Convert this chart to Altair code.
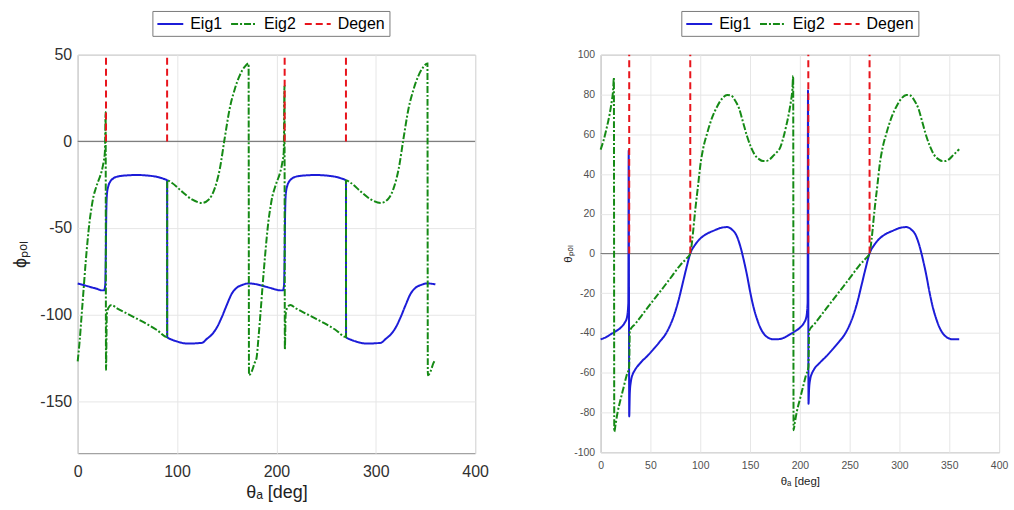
import altair as alt
import pandas as pd

# ---------------- shared legend / style ----------------
SERIES = ["Eig1", "Eig2", "Degen"]
COLORS = ["#1c1cd8", "#158a15", "#e8141c"]
DASHES = [[1, 0], [7, 2, 2, 2], [7, 4]]

# ---------------- left panel: phi_pol ----------------
L_EIG1_X = [0, 5, 10, 15, 20, 24, 26.5, 27.7, 28.3, 28.8,
            29.5, 31, 33, 36, 40, 50, 60, 70, 80, 86,
            90, 90.1, 95, 100, 105, 110, 115, 120, 125, 130,
            135, 140, 145, 150, 155, 160, 165, 172, 180, 185,
            190, 195, 200, 204, 206.5, 207.7, 208.3, 208.8, 209.5, 211,
            213, 216, 220, 230, 240, 250, 260, 266, 270, 270.1,
            275, 280, 285, 290, 295, 300, 305, 310, 315, 320,
            325, 330, 335, 340, 345, 352, 360]
L_EIG1_Y = [-82, -82.8, -83.6, -84.4, -85.2, -86, -86, -83, -65, -40,
            -30, -25.5, -23, -21.3, -20.3, -19.6, -19.4, -19.7, -20.5, -21.5,
            -22.5, -113, -114.5, -115.5, -116.3, -116.7, -116.7, -116.5, -116.3, -114,
            -111.5, -107.5, -101.5, -94.5, -88, -84.5, -83, -82, -82.5, -83.2,
            -84, -84.8, -85.6, -86, -86, -83, -65, -40, -30, -25.5,
            -23, -21.3, -20.3, -19.6, -19.4, -19.7, -20.5, -21.5, -22.5, -113,
            -114.5, -115.5, -116.3, -116.7, -116.7, -116.5, -116.3, -114, -111.5, -107.5,
            -101.5, -94.5, -88, -84.5, -83, -82, -82.5]

L_EIG2_X = [0, 2, 4, 6, 8, 10, 12, 14, 16, 18,
            20, 22, 24, 26, 27.4, 28.1, 28.5, 29.3, 31, 34,
            40, 50, 60, 70, 80, 90, 90.1, 95, 105, 115,
            125, 132, 138, 143, 148, 153, 158, 163, 168, 172,
            172.4, 175, 178, 180, 182, 184, 186, 188, 190, 192,
            194, 196, 198, 200, 202, 204, 206, 207.4, 208.1, 208.5,
            209.3, 211, 214, 220, 230, 240, 250, 260, 270, 270.1,
            275, 285, 295, 305, 312, 318, 323, 328, 333, 338,
            343, 348, 352, 352.4, 355, 358, 360]
L_EIG2_Y = [-127, -115, -100, -85, -70, -57, -46, -38, -31.5, -27.5,
            -24, -21, -17.5, -12, -6, 17, -132, -100, -96, -94.5,
            -96.5, -99.5, -102.5, -105.5, -109, -113, -22.5, -24, -29, -33.5,
            -35.5, -33.5, -27, -16, 2, 19, 30, 38, 43, 45,
            -135, -133, -128, -125, -113, -99, -84, -70, -57, -46,
            -38, -31.5, -27.5, -24, -21, -17.5, -12, -6, 32, -120,
            -100, -96, -94.5, -96.5, -99.5, -102.5, -105.5, -109, -113, -22.5,
            -24, -29, -33.5, -35.5, -33.5, -27, -16, 2, 19, 30,
            38, 43, 45, -135, -133, -128, -126]

L_DEGEN_X = [28.5, 90, 208.3, 270]
L_DEGEN_Y0 = [0, 0, 0, 0]
L_DEGEN_Y1 = [50, 50, 50, 50]

L_XTICKS = [0, 100, 200, 300, 400]
L_YTICKS = [-150, -100, -50, 0, 50]

# ---------------- right panel: theta_pol ----------------
R_EIG1_X = [0, 5, 10, 15, 20, 24, 26.5, 27.8, 28.2, 28.7,
            29.3, 30.5, 32, 34, 40, 47, 55, 60, 64, 69,
            74, 78, 82, 86, 90, 95, 100, 107, 114, 120,
            127, 132, 136, 140, 144, 147, 150, 153, 157, 160,
            164, 168, 174, 180, 185, 190, 195, 200, 204, 206.5,
            207.8, 208.2, 208.7, 209.3, 210.5, 212, 214, 220, 227, 235,
            240, 244, 249, 254, 258, 262, 266, 270, 275, 280,
            287, 294, 300, 307, 312, 316, 320, 324, 327, 330,
            333, 337, 340, 344, 348, 354, 360]
R_EIG1_Y = [-43.2, -42.2, -40.7, -39.2, -37.4, -35, -32, -25, 52, -82,
            -70, -64, -61, -59, -55, -51.5, -47, -44, -41.5, -37,
            -30.7, -24, -15.8, -7.5, 0, 4.5, 7.5, 10, 11.6, 12.8,
            13.3, 12, 9.5, 4, -4, -11, -19, -26, -33, -37,
            -40.5, -42.3, -43.2, -43, -42.2, -40.7, -39.2, -37.4, -35, -32,
            -25, 82, -75.6, -68, -63, -60.5, -58.5, -55, -51.5, -47,
            -44, -41.5, -37, -30.7, -24, -15.8, -7.5, 0, 4.5, 7.5,
            10, 11.6, 12.8, 13.3, 12, 9.5, 4, -4, -11, -19,
            -26, -33, -37, -40.5, -42.3, -43.2, -43.2]

R_EIG2_X = [0, 3, 6, 9, 11, 12.5, 13.3, 13.7, 15, 17,
            20, 23, 26, 28.6, 29.3, 35, 40, 47, 55, 63.7,
            72, 80, 86, 90, 92, 95, 98, 100, 103, 107,
            112, 117, 122, 127, 131, 135, 139, 143, 147, 151,
            155, 159, 163, 166, 170, 174, 177, 180, 183, 186,
            189, 191, 192.5, 193.3, 193.7, 195, 197, 200, 203, 206,
            208.6, 209.3, 215, 220, 227, 235, 243.7, 252, 260, 266,
            270, 272, 275, 278, 280, 283, 287, 292, 297, 302,
            307, 311, 315, 319, 323, 327, 331, 335, 339, 343,
            346, 350, 354, 357, 360]
R_EIG2_Y = [52.3, 57, 63, 70, 76, 82, 88.4, -89.7, -86, -80,
            -73.5, -67.5, -61.5, -57, -39, -35.3, -32, -27.4, -22.2, -16.6,
            -11.1, -5.8, -2.6, 0, 7, 22, 35, 44, 53, 60.6,
            68.5, 74, 78, 79.8, 79.5, 77, 73, 66, 59, 53.5,
            49.5, 47.5, 46.5, 46.5, 47.5, 49.5, 51, 53, 57.5, 63.5,
            70.5, 76.5, 82.5, 89.4, -88.9, -85, -79.5, -73.5, -67.5, -61.5,
            -57, -39, -35.3, -32, -27.4, -22.2, -16.6, -11.1, -5.8, -2.6,
            0, 7, 22, 35, 44, 53, 60.6, 68.5, 74, 78,
            79.8, 79.5, 77, 73, 66, 59, 53.5, 49.5, 47.5, 46.5,
            46.5, 47.5, 49.5, 51, 52.5]

R_DEGEN_X = [28.7, 90, 208.5, 270]
R_DEGEN_Y0 = [0, 0, 0, 0]
R_DEGEN_Y1 = [100, 100, 100, 100]

R_XTICKS = [0, 50, 100, 150, 200, 250, 300, 350, 400]
R_YTICKS = [-100, -80, -60, -40, -20, 0, 20, 40, 60, 80, 100]

FONT = "Liberation Sans"
PLAIN_LABEL = "'' + datum.value"


def panel(e1x, e1y, e2x, e2y, dx, dy0, dy1, xdom, xticks, ydom, yticks,
          xtitle, ytitle, lab_size, title_size, lab_color,
          x_lab_pad, x_title_pad, y_lab_pad, y_title_pad,
          lx, ly, w, h):
    e1 = pd.DataFrame({"x": e1x, "y": e1y, "series": "Eig1"})
    e2 = pd.DataFrame({"x": e2x, "y": e2y, "series": "Eig2"})
    dg = pd.DataFrame({"x": dx, "y0": dy0, "y1": dy1, "series": "Degen"})
    zero = pd.DataFrame({"z": [0]})

    legend = alt.Legend(orient="none", legendX=lx, legendY=ly, direction="horizontal",
                        title=None, symbolType="M-1.625,0H1.625", symbolSize=256,
                        symbolOffset=5, symbolStrokeWidth=2, labelFontSize=16,
                        labelFont=FONT, labelColor="#000000", strokeColor="#7a7a7a",
                        fillColor="white", padding=4, columnPadding=4, labelOffset=11,
                        cornerRadius=0)
    color = alt.Color("series:N", scale=alt.Scale(domain=SERIES, range=COLORS), legend=legend)
    dash = alt.StrokeDash("series:N", scale=alt.Scale(domain=SERIES, range=DASHES), legend=legend)

    xax = alt.Axis(values=xticks, title=xtitle, labelFontSize=lab_size, titleFontSize=title_size,
                   labelColor=lab_color, titleColor="#222222", labelPadding=x_lab_pad,
                   titlePadding=x_title_pad, titleFontWeight="normal", labelFont=FONT,
                   titleFont=FONT, labelFlush=False, labelExpr=PLAIN_LABEL)
    yax = alt.Axis(values=yticks, title=ytitle, labelFontSize=lab_size, titleFontSize=title_size,
                   labelColor=lab_color, titleColor="#222222", labelPadding=y_lab_pad,
                   titlePadding=y_title_pad, titleFontWeight="normal", labelFont=FONT,
                   titleFont=FONT, labelFlush=False, labelExpr=PLAIN_LABEL)
    xs = alt.Scale(domain=xdom, nice=False, zero=False)
    ys = alt.Scale(domain=ydom, nice=False, zero=False)

    zl = alt.Chart(zero).mark_rule(color="#7f7f7f", strokeWidth=1.2).encode(
        y=alt.Y("z:Q", scale=ys, axis=yax))
    l1 = alt.Chart(e1).mark_line(strokeWidth=2, interpolate="monotone").encode(
        x=alt.X("x:Q", scale=xs, axis=xax), y=alt.Y("y:Q", scale=ys, axis=yax),
        color=color, strokeDash=dash)
    l2 = alt.Chart(e2).mark_line(strokeWidth=2, interpolate="monotone").encode(
        x=alt.X("x:Q", scale=xs, axis=xax), y=alt.Y("y:Q", scale=ys, axis=yax),
        color=color, strokeDash=dash)
    rd = alt.Chart(dg).mark_rule(strokeWidth=2).encode(
        x=alt.X("x:Q", scale=xs, axis=xax), y=alt.Y("y0:Q", scale=ys, axis=yax),
        y2="y1:Q", color=color, strokeDash=dash)
    return alt.layer(zl, l1, l2, rd).properties(width=w, height=h)


left = panel(L_EIG1_X, L_EIG1_Y, L_EIG2_X, L_EIG2_Y, L_DEGEN_X, L_DEGEN_Y0, L_DEGEN_Y1,
             [0, 400], L_XTICKS, [-180, 50], L_YTICKS,
             "θₐ [deg]", "ϕₚₒₗ", 16, 18, "#303030",
             10, 4, 6, 10, 75, -44, 399, 400)
right = panel(R_EIG1_X, R_EIG1_Y, R_EIG2_X, R_EIG2_Y, R_DEGEN_X, R_DEGEN_Y0, R_DEGEN_Y1,
              [0, 400], R_XTICKS, [-100, 100], R_YTICKS,
              "θₐ [deg]", "θₚₒₗ", 10.5, 11.5, "#505050",
              8, 5, 6, 0, 81, -44, 400, 399)

chart = alt.hconcat(left, right, spacing=73).resolve_scale(
    color="independent", strokeDash="independent"
).configure_view(
    stroke="#8a8a8a", strokeWidth=1
).configure_axis(
    domain=False, ticks=False, grid=True, gridColor="#e6e6e6", gridWidth=1
).properties(
    padding={"left": 11, "top": 9, "right": 5, "bottom": 5}, background="white"
)

chart.save("out.html", embed_options={"renderer": "svg", "actions": False})
